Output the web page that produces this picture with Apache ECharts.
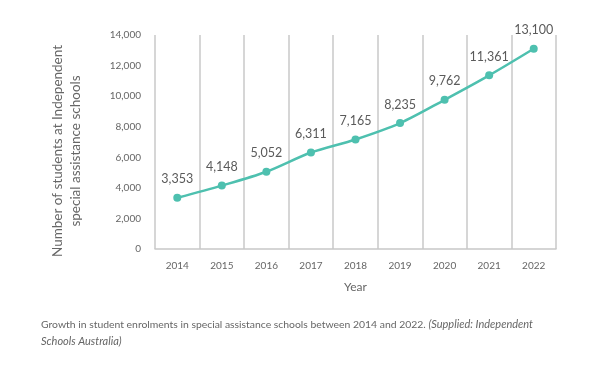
<!DOCTYPE html>
<html><head><meta charset="utf-8">
<script src="https://cdn.jsdelivr.net/npm/echarts@6/dist/echarts.min.js"></script>
<style>html,body{margin:0;padding:0;background:#fff;}#c{width:600px;height:366px;}</style>
</head><body><div id="c"></div>
<script>
const years = ['2014','2015','2016','2017','2018','2019','2020','2021','2022'];
const students = [3353, 4148, 5052, 6311, 7165, 8235, 9762, 11361, 13100];
const yTicks = [0, 2000, 4000, 6000, 8000, 10000, 12000, 14000];
const yAxisTitle = 'Number of students at Independent\nspecial assistance schools';
const xAxisTitle = 'Year';
const caption = 'Growth in student enrolments in special assistance schools between 2014 and 2022. ';
const source = '(Supplied: Independent';
const source2 = 'Schools Australia)';

const chart = echarts.init(document.getElementById('c'), null, {renderer:'canvas'});
const fmt = v => v.toLocaleString('en-US');
chart.setOption({
  animation:false,
  textStyle:{fontFamily:'Lato'},
  grid:{left:155,right:44,top:35,bottom:117},
  xAxis:{
    type:'category', data:years, boundaryGap:true,
    axisLine:{show:true,lineStyle:{color:'#c8c8c8',width:1.5}},
    axisTick:{show:false},
    splitLine:{show:true,lineStyle:{color:'#c8c8c8',width:1.5}},
    axisLabel:{color:'#666',fontSize:10,margin:12,fontFamily:'Lato'},
    name:xAxisTitle, nameLocation:'middle', nameGap:32,
    nameTextStyle:{color:'#666',fontSize:12,fontFamily:'Lato'}
  },
  yAxis:{
    type:'value', min:yTicks[0], max:yTicks[yTicks.length-1], interval:2000,
    axisLine:{show:false}, axisTick:{show:false},
    splitLine:{show:false},
    axisLabel:{color:'#666',fontSize:10,margin:14,formatter:fmt,fontFamily:'Lato'}
  },
  series:[{
    type:'line', data:students, smooth:0.3,
    symbol:'circle', symbolSize:8,
    lineStyle:{color:'#4ec0af',width:2.5},
    itemStyle:{color:'#4ec0af'},
    label:{show:true,position:'top',distance:8,color:'#5a5a5a',fontSize:12.5,formatter:p=>fmt(p.value),fontFamily:'Lato'}
  }],
  graphic:[
    {type:'text',x:67,y:151,rotation:Math.PI/2,
     style:{text:yAxisTitle,fill:'#666',font:'13.5px Lato',lineHeight:18,align:'center',verticalAlign:'middle'}},
    {type:'text',left:41,top:319,style:{
      text:'{n|'+caption+'}{i|'+source+'}',
      rich:{n:{fill:'#666',font:'10.4px Lato'},i:{fill:'#666',font:'italic 11px Lato'}}}},
    {type:'text',left:41,top:336,style:{text:source2,fill:'#666',font:'italic 11px Lato'}}
  ]
});
</script></body></html>
